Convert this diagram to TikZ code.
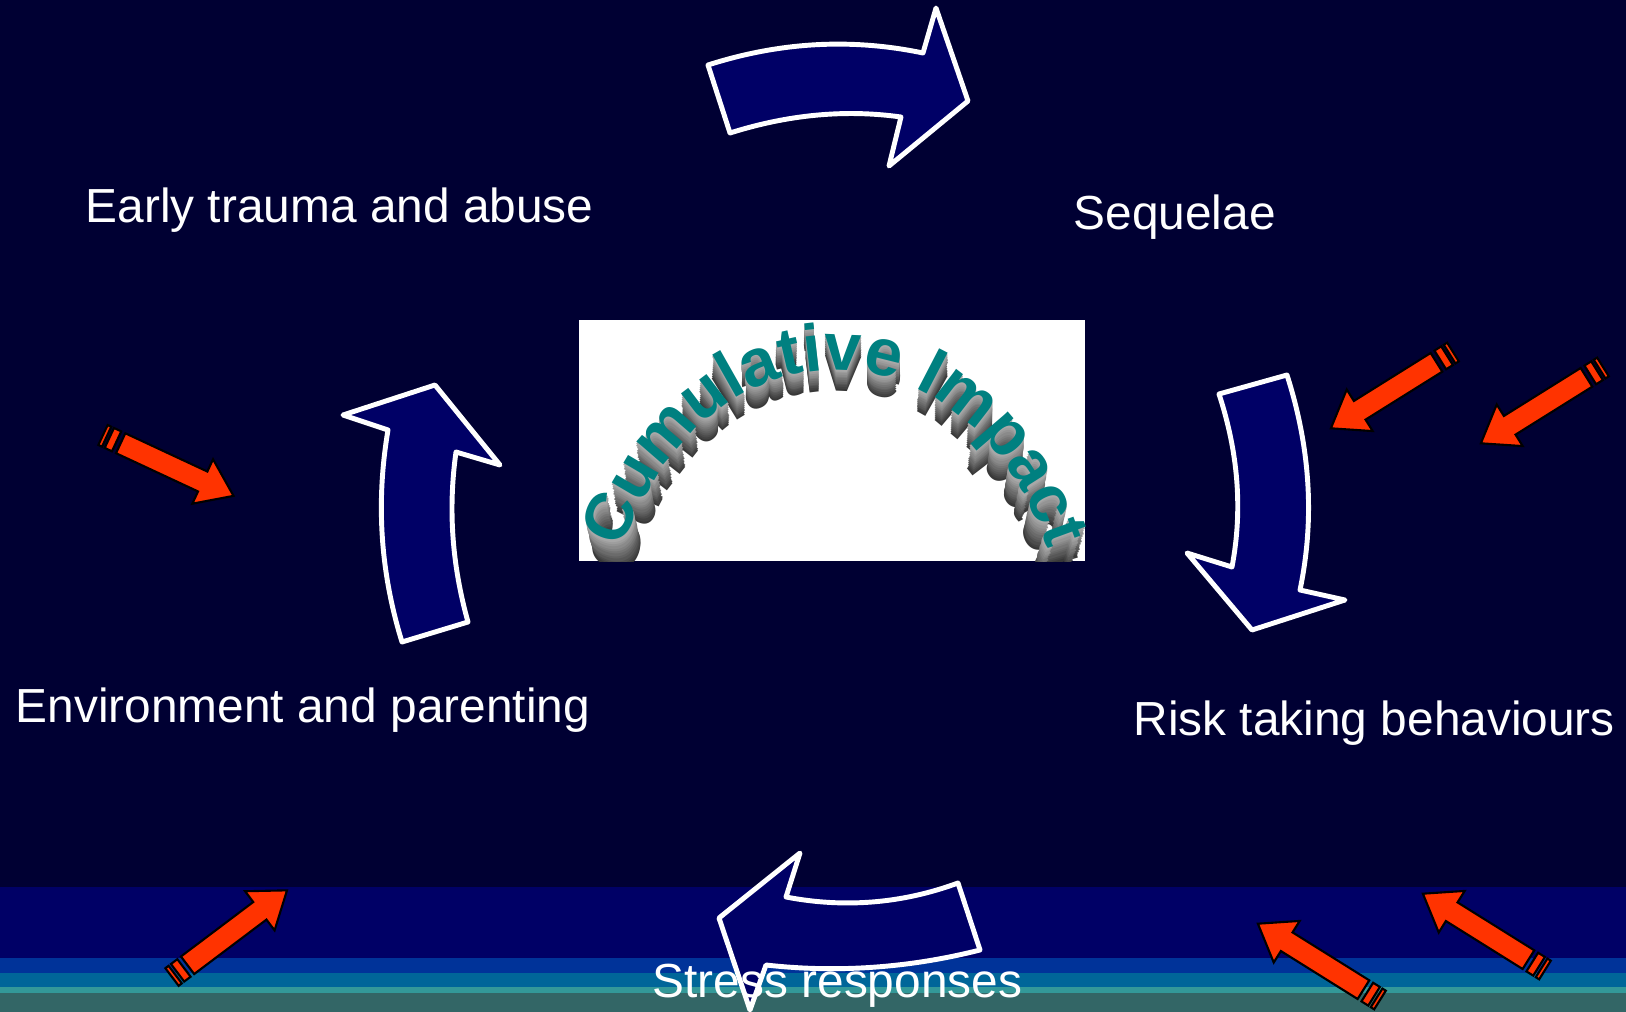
\documentclass[tikz,border=0pt]{standalone}
\usepackage{fontspec}
\setmainfont{Liberation Sans}
\usetikzlibrary{decorations.text}
\definecolor{bgnavy}{HTML}{000033}
\definecolor{arrnavy}{HTML}{000066}
\definecolor{bandA}{HTML}{003399}
\definecolor{bandB}{HTML}{006699}
\definecolor{bandC}{HTML}{339999}
\definecolor{bandD}{HTML}{336666}
\definecolor{riskred}{HTML}{FF3300}
\definecolor{wordteal}{HTML}{008080}
\newcommand{\wafont}{\fontsize{19}{21}\selectfont\bfseries}

\begin{document}
\begin{tikzpicture}[x=0.01cm,y=-0.01cm,
    lbl/.style={text=white,inner sep=0pt,anchor=base west,font=\fontsize{13.6}{16}\selectfont},
    cyc/.style={fill=arrnavy,draw=white,line width=1.4pt,line join=round},
    hot/.style={fill=riskred,draw=black,line width=0.6pt}]
  \useasboundingbox (0,0) rectangle (1626,1012);
  \clip (0,0) rectangle (1626,1012);
  % background and bands at the foot
  \fill[bgnavy] (0,0) rectangle (1626,1012);
  \foreach \col/\t/\b in {arrnavy/887/958,bandA/958/973,bandB/973/987,bandC/987/993,bandD/993/1012}
    \fill[\col] (0,\t) rectangle (1626,\b);

  % striped red arrows
  \foreach \x/\y/\a in {103/435/-25,172/977/37,1380/1000/148,1545/970/148,1453/352/212,1603/367/212}{
    \begin{scope}[shift={(\x,\y)},rotate=\a]
      \draw[hot] (0,-11) rectangle (4,11);
      \draw[hot] (7,-11) rectangle (15,11);
      \draw[hot] (19.5,-11) -- (110,-11) -- (110,-24.5) -- (144,0) -- (110,24.5) -- (110,11) -- (19.5,11) -- cycle;
    \end{scope}}

  % the cycle of curved arrows
  \draw[cyc] (708,65) -- (730,133) .. controls (787,115) and (844,109) .. (901,117) -- (889,166)
    -- (968,101) -- (936,8) -- (923,53) .. controls (851,38) and (780,42) .. (708,65) -- cycle;
  \draw[cyc] (1219,394) -- (1287,375) .. controls (1310,447) and (1315,518) .. (1300,590) -- (1345,600)
    -- (1252,630) -- (1187,553) -- (1232,567) .. controls (1243,509) and (1238,452) .. (1219,394) -- cycle;
  \draw[cyc] (800,853) -- (786,897) .. controls (843,908) and (901,904) .. (958,883) -- (980,950)
    .. controls (909,968) and (837,973) .. (766,965) -- (750,1010) -- (719,918) -- cycle;
  \draw[cyc] (402,642) -- (468,622) .. controls (452,565) and (448,509) .. (456,452) -- (500,465)
    -- (435,385) -- (343,415) -- (388,430) .. controls (376,501) and (380,571) .. (402,642) -- cycle;

  % centre panel with arched title
  \node[fill=white,inner sep=0pt,minimum width=5.06cm,minimum height=2.41cm] (impact) at (832,440.5) {};
  \begin{scope}
    \clip (impact.south west) rectangle (impact.north east);
    \foreach \k [evaluate=\k as \g using int(30+4*\k)] in {12,...,1}
      \path[shift={(835,660)},decorate,decoration={text along path,text align=center,
          text color=black!\g,text={|\wafont|Cumulative Impact}}]
        (-165:{230*(1-0.006*\k)} and {290*(1-0.006*\k)})
        arc[start angle=-165,end angle=-15,x radius=230*(1-0.006*\k),y radius=290*(1-0.006*\k)];
    \path[shift={(835,660)},decorate,decoration={text along path,text align=center,
        text color=wordteal,text={|\wafont|Cumulative Impact}}]
      (-165:230 and 290) arc[start angle=-165,end angle=-15,x radius=230,y radius=290];
  \end{scope}

  % labels
  \node[lbl] (early) at (85,222) {Early trauma and abuse};
  \node[lbl] (seq) at (1073,229) {Sequelae};
  \node[lbl] (env) at (15,722) {Environment and parenting};
  \node[lbl] (risk) at (1133,735) {Risk taking behaviours};
  \node[lbl] (stress) at (652,997) {Stress responses};
\end{tikzpicture}
\end{document}
